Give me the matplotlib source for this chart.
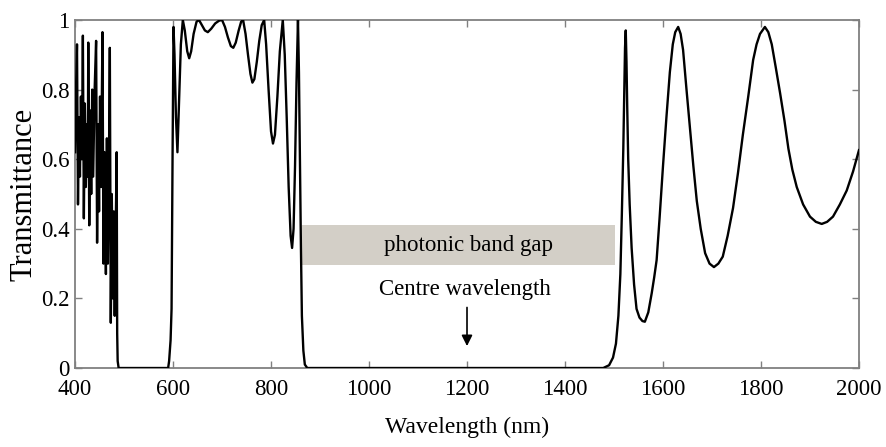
import matplotlib
matplotlib.use("Agg")
import matplotlib.pyplot as plt
from matplotlib.patches import Rectangle

plt.rcParams['font.family'] = ['Liberation Serif', 'DejaVu Serif']

# ---- data ----
wavelength = [
    400, 402, 404, 406, 408, 410, 412, 414, 416, 418, 420, 422, 424, 426, 427, 429, 431, 433, 435, 437,
    440, 443, 445, 447, 449, 451, 453, 456, 458, 460, 463, 465, 467, 469, 471, 473, 475, 477, 479, 481,
    483, 485, 486, 487, 489,
    590, 592, 595, 597, 599, 601, 603, 606, 609, 612, 616, 620, 624, 629, 633, 637, 642, 648, 653, 659,
    665, 671, 678, 686, 694, 700, 706, 712, 718, 723, 728, 734, 739, 743, 748, 753, 758, 762, 766, 771,
    776, 781, 786, 790, 795, 800, 804, 808, 813, 818, 824, 828, 832, 836, 840, 843, 846, 849, 852, 855,
    857, 859, 861, 863, 866, 869, 874,
    1478, 1490, 1498, 1504, 1509, 1513, 1516, 1519, 1521, 1522.5, 1524, 1525.5, 1527, 1529, 1532, 1536,
    1541, 1546, 1552, 1558, 1563, 1570, 1577, 1582, 1587, 1593, 1600, 1607, 1614, 1620, 1625, 1631,
    1636, 1641, 1648, 1655, 1662, 1669, 1677, 1686, 1695, 1704, 1713, 1722, 1732, 1743, 1753, 1763,
    1774, 1784, 1791, 1798, 1808, 1815, 1822, 1830, 1839, 1848, 1856, 1864, 1873, 1886, 1900, 1912,
    1924, 1935, 1947, 1961, 1975, 1988, 2000,
]
transmittance = [
    0.62, 0.80, 0.93, 0.47, 0.72, 0.55, 0.78, 0.60, 0.955, 0.43, 0.76, 0.52, 0.70, 0.55, 0.935, 0.41, 0.74, 0.50, 0.80, 0.55,
    0.80, 0.94, 0.36, 0.70, 0.45, 0.78, 0.52, 0.965, 0.30, 0.62, 0.27, 0.66, 0.30, 0.55, 0.92, 0.13, 0.50, 0.20, 0.45, 0.15,
    0.40, 0.62, 0.10, 0.02, 0.0,
    0.0, 0.02, 0.08, 0.17, 0.60, 0.98, 0.90, 0.72, 0.62, 0.75, 0.93, 1.0, 0.97, 0.91, 0.89, 0.91, 0.96, 0.995, 1.0, 0.985,
    0.97, 0.965, 0.975, 0.99, 0.998, 1.0, 0.98, 0.95, 0.925, 0.92, 0.935, 0.97, 0.995, 1.0, 0.96, 0.90, 0.845, 0.82, 0.83, 0.88,
    0.94, 0.985, 1.0, 0.93, 0.80, 0.68, 0.645, 0.67, 0.78, 0.91, 1.0, 0.90, 0.72, 0.52, 0.38, 0.345, 0.40, 0.58, 0.82, 1.0,
    0.85, 0.60, 0.35, 0.15, 0.05, 0.01, 0.0,
    0.0, 0.008, 0.03, 0.07, 0.15, 0.27, 0.44, 0.63, 0.80, 0.92, 0.97, 0.88, 0.75, 0.60, 0.47, 0.345,
    0.24, 0.17, 0.145, 0.135, 0.133, 0.16, 0.215, 0.26, 0.31, 0.43, 0.58, 0.72, 0.85, 0.93, 0.965, 0.98,
    0.96, 0.914, 0.80, 0.69, 0.58, 0.48, 0.40, 0.33, 0.30, 0.29, 0.30, 0.32, 0.38, 0.46, 0.56, 0.67,
    0.78, 0.885, 0.93, 0.96, 0.98, 0.965, 0.93, 0.865, 0.79, 0.71, 0.63, 0.57, 0.52, 0.47, 0.435, 0.42,
    0.414, 0.42, 0.435, 0.47, 0.51, 0.565, 0.626,
]

band_gap_range = (863, 1502)      # nm
band_gap_levels = (0.296, 0.41)   # transmittance
centre_wavelength = 1200

x_ticks = [400, 600, 800, 1000, 1200, 1400, 1600, 1800, 2000]
y_ticks = [0, 0.2, 0.4, 0.6, 0.8, 1.0]
y_tick_labels = ['0', '0.2', '0.4', '0.6', '0.8', '1']

# ---- figure ----
fig = plt.figure(figsize=(8.87, 4.47), dpi=100)
ax = fig.add_axes([0.0846, 0.1767, 0.8838, 0.7786])

ax.add_patch(Rectangle((band_gap_range[0], band_gap_levels[0]),
                       band_gap_range[1] - band_gap_range[0],
                       band_gap_levels[1] - band_gap_levels[0],
                       facecolor='#d3cfc7', edgecolor='none', zorder=1))

ax.plot(wavelength, transmittance, color='black', lw=1.7, zorder=3,
        solid_joinstyle='round')

ax.text(1204, 0.352, 'photonic band gap', ha='center', va='center', fontsize=16.5, zorder=4)
ax.text(1195, 0.225, 'Centre wavelength', ha='center', va='center', fontsize=16.5, zorder=4)
ax.annotate('', xy=(centre_wavelength, 0.055), xytext=(centre_wavelength, 0.182),
            arrowprops=dict(arrowstyle='-|>', color='black', lw=1.2, mutation_scale=16))

ax.set_xlim(400, 2000)
ax.set_ylim(0, 1)
ax.set_xticks(x_ticks)
ax.set_yticks(y_ticks)
ax.set_yticklabels(y_tick_labels)
ax.tick_params(direction='in', length=5, width=1, color='#808080',
               top=True, right=True, labelsize=16.5)
ax.tick_params(axis='x', pad=8)
ax.tick_params(axis='y', pad=4)
for s in ax.spines.values():
    s.set_color('#808080')
    s.set_linewidth(1.3)

ax.set_xlabel('Wavelength (nm)', fontsize=17, labelpad=12)
ax.set_ylabel('Transmittance', fontsize=22, labelpad=1.5)

fig.savefig('out.png', dpi=100)
